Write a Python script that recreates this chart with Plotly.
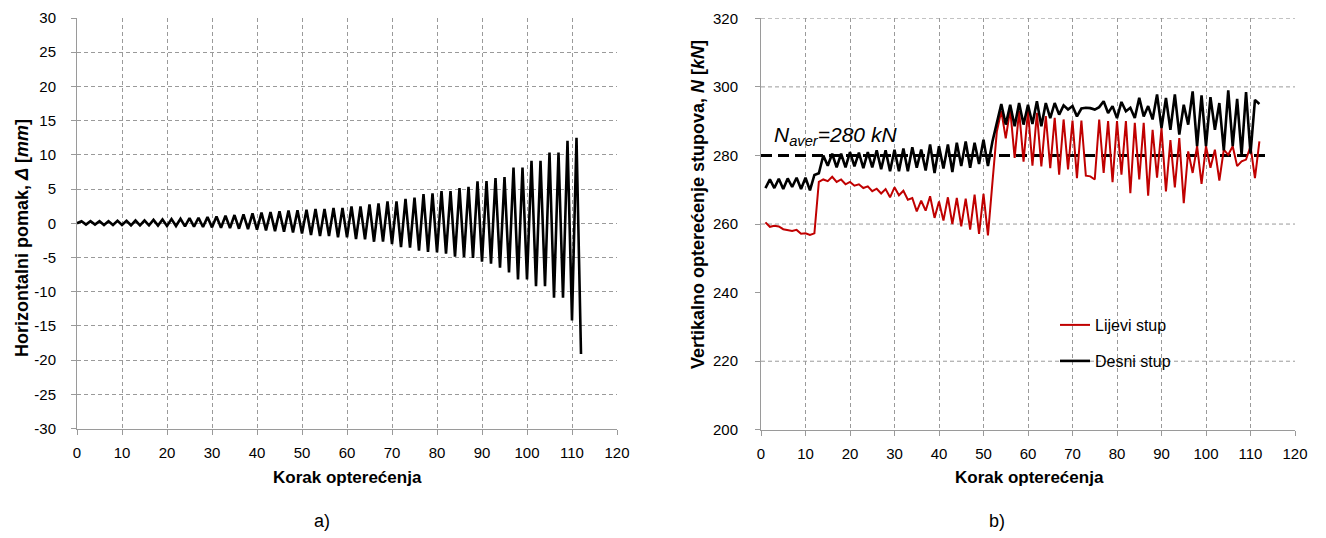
import plotly.graph_objects as go

# ---------------- data ----------------
steps_a = list(range(0, 113))
disp_mm = [0.0,
    0.3, -0.2, 0.3, -0.2, 0.3, -0.25, 0.3, -0.25, 0.35, -0.25,
    0.35, -0.3, 0.4, -0.3, 0.4, -0.3, 0.5, -0.35, 0.55, -0.4,
    0.6, -0.4, 0.65, -0.45, 0.75, -0.5, 0.8, -0.55, 0.9, -0.6,
    1.0, -0.65, 1.1, -0.7, 1.2, -0.8, 1.3, -0.85, 1.45, -0.95,
    1.55, -1.05, 1.65, -1.15, 1.75, -1.25, 1.85, -1.35, 1.9, -1.5,
    1.96, -1.72, 2.1, -1.86, 2.1, -1.86, 2.25, -2.06, 2.25, -2.06,
    2.45, -2.3, 2.45, -2.35, 2.75, -2.7, 2.89, -2.7, 3.19, -3.04,
    3.19, -3.48, 3.58, -3.58, 3.73, -4.02, 4.26, -4.2, 4.36, -4.26,
    4.71, -4.46, 4.71, -4.9, 5.15, -4.95, 5.34, -5.05, 6.13, -5.6,
    6.18, -5.9, 6.62, -6.5, 6.76, -7.2, 8.14, -8.2, 8.14, -8.2,
    9.12, -9.2, 9.12, -9.2, 10.34, -10.9, 10.34, -10.9, 12.06, -14.2,
    12.5, -19.1]

steps_b = list(range(1, 113))
lijevi_kN = [
    260.5, 259.2, 259.5, 259.3, 258.5, 258.3, 258.0, 258.3, 257.2, 257.3,
    256.8, 257.3, 272.3, 273.0, 272.5, 273.8, 272.3, 273.0, 271.6, 272.3,
    271.2, 271.6, 270.5, 271.0, 269.6, 270.3, 268.9, 270.2, 267.8, 270.7,
    268.4, 269.7, 267.1, 267.6, 263.7, 266.8, 263.9, 268.1, 261.8, 266.6,
    261.0, 267.8, 260.0, 267.6, 259.3, 267.4, 258.4, 268.6, 257.1, 268.8,
    256.7, 272.0, 287.0, 293.0, 285.0, 293.5, 279.3, 293.0, 278.2, 293.0,
    277.0, 292.4, 276.8, 291.5, 276.3, 291.0, 274.4, 290.5, 275.9, 290.2,
    273.4, 290.2, 274.1, 273.9, 273.0, 290.5, 274.9, 290.0, 272.2, 290.0,
    274.4, 290.0, 269.0, 289.5, 273.0, 289.5, 268.3, 287.5, 273.5, 288.0,
    269.5, 284.5, 270.7, 285.1, 266.1, 281.2, 274.9, 282.7, 271.7, 282.7,
    276.4, 281.7, 272.7, 281.7, 280.2, 282.7, 276.9, 278.3, 278.8, 282.7,
    273.4, 284.1]
desni_kN = [
    270.5, 273.0, 270.5, 273.2, 270.2, 273.3, 270.8, 273.5, 270.2, 273.5,
    269.8, 274.3, 274.8, 280.0, 277.0, 280.5, 276.5, 280.5, 276.5, 281.0,
    276.8, 280.8, 276.3, 281.0, 276.5, 281.5, 276.0, 281.5, 275.4, 281.7,
    275.4, 282.0, 275.4, 282.4, 276.4, 281.7, 275.6, 283.2, 274.9, 282.7,
    276.2, 283.2, 275.2, 283.7, 276.9, 284.1, 276.4, 283.7, 277.5, 284.6,
    276.9, 284.0, 289.5, 295.0, 289.0, 294.8, 288.5, 295.3, 289.0, 294.8,
    289.2, 295.8, 288.5, 295.3, 290.9, 295.3, 291.9, 294.6, 293.4, 294.4,
    291.4, 293.7, 293.9, 293.8, 293.4, 294.1, 295.8, 292.4, 294.4, 290.9,
    295.6, 292.9, 293.9, 290.9, 296.8, 291.4, 294.4, 290.5, 297.8, 288.0,
    296.8, 287.5, 297.8, 286.1, 294.8, 289.0, 298.7, 282.7, 297.5, 282.7,
    297.0, 287.5, 295.3, 281.5, 299.0, 282.7, 296.5, 280.2, 298.5, 280.5,
    296.2, 295.0]

n_aver = 280
n_aver_x = [0, 114]

x_ticks = [0, 10, 20, 30, 40, 50, 60, 70, 80, 90, 100, 110, 120]
y_ticks_a = [-30, -25, -20, -15, -10, -5, 0, 5, 10, 15, 20, 25, 30]
y_ticks_b = [200, 220, 240, 260, 280, 300, 320]
grid_b = [220, 260, 300, 320]

# ---------------- styling ----------------
W, H = 1326, 538
SANS = "Liberation Sans, Arial, sans-serif"
RED = "#C00000"
GRID = "#9a9a9a"
AXIS = "#9a9a9a"

def px_x(p):
    return p / W

def px_y(p):
    return 1 - p / H

fig = go.Figure()

fig.add_trace(go.Scatter(x=steps_a, y=disp_mm, mode="lines",
                         line=dict(color="black", width=2.6),
                         xaxis="x", yaxis="y", showlegend=False))

fig.add_trace(go.Scatter(x=n_aver_x, y=[n_aver, n_aver], mode="lines",
                         line=dict(color="black", width=3, dash="11px,6px"),
                         xaxis="x2", yaxis="y2", showlegend=False))

fig.add_trace(go.Scatter(x=steps_b, y=lijevi_kN, mode="lines", name="Lijevi stup",
                         line=dict(color=RED, width=2),
                         xaxis="x2", yaxis="y2", legend="legend"))
fig.add_trace(go.Scatter(x=steps_b, y=desni_kN, mode="lines", name="Desni stup",
                         line=dict(color="black", width=2.6),
                         xaxis="x2", yaxis="y2", legend="legend2"))

tickfont = dict(family=SANS, size=15, color="black")

common_x = dict(range=[0, 120], tickvals=x_ticks, ticktext=[str(v) for v in x_ticks],
                showline=True, linecolor=AXIS, linewidth=1,
                ticks="outside", ticklen=5, tickcolor=AXIS,
                showgrid=True, gridcolor=GRID, griddash="4px,3px", gridwidth=1,
                zeroline=False, tickfont=tickfont, ticklabelstandoff=5,
                fixedrange=True)

fig.update_layout(
    width=W, height=H,
    margin=dict(l=0, r=0, t=0, b=0, autoexpand=False),
    paper_bgcolor="white", plot_bgcolor="white",
    xaxis=dict(domain=[px_x(77), px_x(617)], anchor="y", **common_x),
    yaxis=dict(domain=[px_y(428.5), px_y(18)], anchor="x", range=[-30, 30],
               tickvals=y_ticks_a, ticktext=[str(v) for v in y_ticks_a],
               showline=True, linecolor=AXIS, linewidth=1,
               ticks="outside", ticklen=5, tickcolor=AXIS,
               showgrid=True, gridcolor=GRID, griddash="4px,3px", gridwidth=1,
               zeroline=False, tickfont=tickfont, ticklabelstandoff=12,
               fixedrange=True),
    xaxis2=dict(domain=[px_x(761), px_x(1295)], anchor="y2", **common_x),
    yaxis2=dict(domain=[px_y(429.8), px_y(18.3)], anchor="x2", range=[200, 320],
                tickvals=y_ticks_b, ticktext=[str(v) for v in y_ticks_b],
                showline=True, linecolor=AXIS, linewidth=1,
                ticks="outside", ticklen=5, tickcolor=AXIS,
                showgrid=False, zeroline=False, tickfont=tickfont,
                ticklabelstandoff=14, fixedrange=True),
    legend=dict(x=px_x(1055), y=px_y(325), xanchor="left", yanchor="middle",
                bgcolor="rgba(0,0,0,0)", font=dict(family=SANS, size=16, color="black")),
    legend2=dict(x=px_x(1055), y=px_y(361), xanchor="left", yanchor="middle",
                 bgcolor="rgba(0,0,0,0)", font=dict(family=SANS, size=16, color="black")),
)

for g in grid_b:
    fig.add_shape(type="line", xref="x2", yref="y2", x0=0, x1=120, y0=g, y1=g,
                  line=dict(color=GRID, width=1, dash="4px,3px"), layer="below")

title_font = dict(family=SANS, size=17, color="black")
ytitle_font = dict(family=SANS, size=18, color="black")

def note(text, x, y, font, angle=0, xanchor="center"):
    fig.add_annotation(text=text, textangle=angle, x=px_x(x), y=px_y(y),
                       xref="paper", yref="paper", xanchor=xanchor, yanchor="middle",
                       showarrow=False, font=font)

note("<b>Horizontalni pomak, <i>Δ</i> [<i>mm</i>]</b>", 22, 238, ytitle_font, angle=-90)
note("<b>Vertikalno opterećenje stupova, <i>N</i> [<i>kN</i>]</b>", 698, 205, ytitle_font, angle=-90)
note("<b>Korak opterećenja</b>", 347, 477, title_font)
note("<b>Korak opterećenja</b>", 1029, 477, title_font)
note("<i>N<sub>aver</sub>=280 kN</i>", 772, 136, dict(family=SANS, size=21, color="black"),
     xanchor="left")
note("a)", 322, 521, dict(family=SANS, size=18, color="black"))
note("b)", 997, 521, dict(family=SANS, size=18, color="black"))

fig.write_html("out.html", config={"displayModeBar": False},
               post_script="document.body.style.margin='0';")
